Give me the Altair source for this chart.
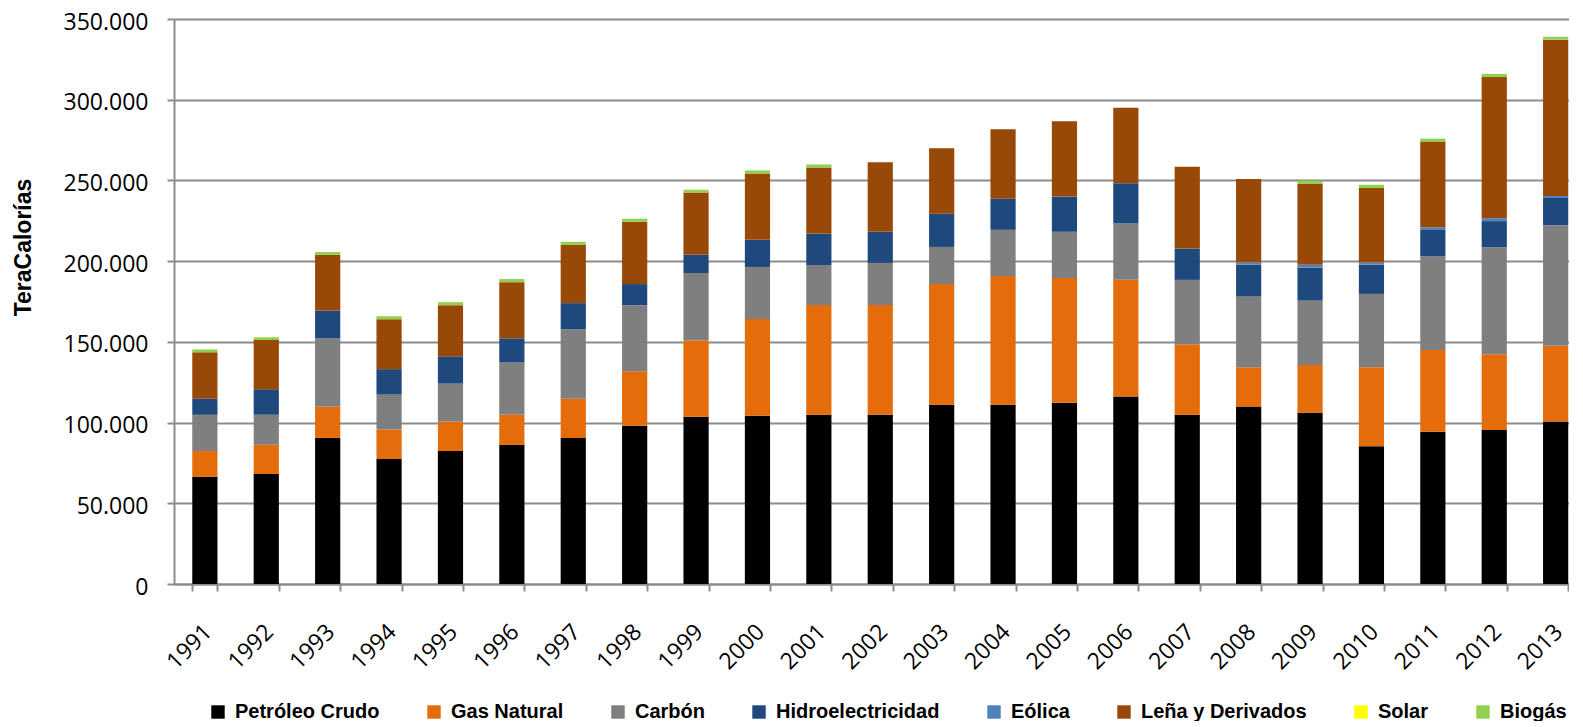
import altair as alt
import pandas as pd

anios = ["1991", "1992", "1993", "1994", "1995", "1996", "1997", "1998", "1999", "2000",
         "2001", "2002", "2003", "2004", "2005", "2006", "2007", "2008", "2009", "2010",
         "2011", "2012", "2013"]

fuentes = ["Petróleo Crudo", "Gas Natural", "Carbón", "Hidroelectricidad", "Eólica",
           "Leña y Derivados", "Solar", "Biogás"]
colores = ["#000000", "#E46C0A", "#7F7F7F", "#1F497D", "#4F81BD", "#984807", "#FFFF00", "#92D050"]

petroleo = [66400, 68100, 90500, 77400, 82400, 86200, 90500, 98000, 103600, 104200,
            104800, 104800, 111100, 111100, 112300, 116100, 104800, 109900, 106100, 85400,
            94300, 95400, 100600]
gas_natural = [16000, 18100, 19300, 18300, 18300, 18600, 24300, 33800, 47300, 60000,
               68100, 68100, 74700, 79700, 77200, 72400, 43700, 24300, 29500, 48800,
               50700, 46900, 47000]
carbon = [22400, 18600, 42400, 21600, 23400, 32400, 43000, 40900, 41800, 32200,
          24700, 26000, 23000, 28600, 28700, 34800, 39900, 43800, 39900, 45500,
          57900, 66200, 74700]
hidro = [10000, 15800, 17000, 15800, 16900, 15000, 16200, 13100, 11200, 16800,
         19300, 19300, 20600, 19300, 21800, 25000, 19400, 19800, 20500, 18100,
         16800, 16300, 16800]
eolica = [0, 0, 0, 0, 0, 0, 0, 0, 0, 0,
          0, 0, 0, 0, 0, 0, 0, 1300, 1800, 1300,
          1300, 1800, 1300]
lena = [28700, 30500, 34700, 30900, 31700, 34800, 36100, 38600, 38600, 41100,
        41100, 43000, 40500, 43000, 46700, 46700, 50700, 51800, 50000, 46200,
        53100, 87400, 96800]
solar = [0, 0, 0, 0, 0, 0, 0, 0, 0, 0,
         0, 0, 0, 0, 0, 0, 0, 0, 0, 0,
         0, 0, 0]
biogas = [1800, 1700, 1800, 1900, 1900, 1900, 1900, 1900, 1800, 1900,
          1900, 0, 0, 0, 0, 0, 0, 0, 2000, 2000,
          1800, 2000, 1800]

series = [petroleo, gas_natural, carbon, hidro, eolica, lena, solar, biogas]
y_ticks = [0, 50000, 100000, 150000, 200000, 250000, 300000, 350000]

rows = []
for i, (fuente, valores) in enumerate(zip(fuentes, series)):
    for anio, v in zip(anios, valores):
        rows.append({"Año": anio, "Fuente": fuente, "valor": v, "orden": i})
df = pd.DataFrame(rows)

GRID = "#8C8C8C"

chart = alt.Chart(df).mark_bar().encode(
    x=alt.X(
        "Año:N",
        sort=anios,
        scale=alt.Scale(paddingInner=0.5896, paddingOuter=0.155, align=0.96),
        axis=alt.Axis(
            title=None, labelAngle=-45, labelAlign="right", labelBaseline="middle",
            labelFont="Open Sans", labelFontSize=23, labelColor="#000000",
            labelPadding=37, labelOffset=3, tickBand="extent", tickSize=7,
            tickColor=GRID, tickWidth=2, domainColor=GRID, domainWidth=2, grid=False,
        ),
    ),
    y=alt.Y(
        "valor:Q",
        stack="zero",
        scale=alt.Scale(domain=[0, 350000], nice=False),
        axis=alt.Axis(
            title="TeraCalorías", values=y_ticks,
            labelExpr="replace(format(datum.value, ','), ',', '.')",
            labelFont="Open Sans", labelFontSize=23, labelColor="#000000",
            labelPadding=19, labelOffset=3, tickSize=7, tickColor=GRID, tickWidth=2,
            domainColor=GRID, domainWidth=2, gridColor=GRID, gridWidth=2,
            titleFont="Liberation Sans", titleFontSize=23, titleFontWeight="bold",
            titleColor="#000000", titleX=-151, titleY=228, titleAlign="center",
            titleBaseline="middle", titleAngle=270,
        ),
    ),
    color=alt.Color(
        "Fuente:N",
        sort=fuentes,
        scale=alt.Scale(domain=fuentes, range=colores),
        legend=alt.Legend(
            title=None, orient="none", legendX=34, legendY=683,
            direction="horizontal", columns=8, symbolType="square",
            symbolSize=180, symbolStrokeWidth=0, symbolOpacity=1,
            labelFont="Liberation Sans", labelFontSize=20, labelFontWeight="bold",
            labelColor="#000000", columnPadding=44, labelOffset=7, padding=0,
            labelLimit=0,
        ),
    ),
    order=alt.Order("orden:Q", sort="ascending"),
).properties(
    width=1395,
    height=565,
    autosize=alt.AutoSizeParams(type="none"),
    padding={"left": 166, "top": 11, "right": 0, "bottom": 137},
).configure_view(stroke=None).configure(background="white")

chart.save("out.html", embed_options={"renderer": "svg", "actions": False})
